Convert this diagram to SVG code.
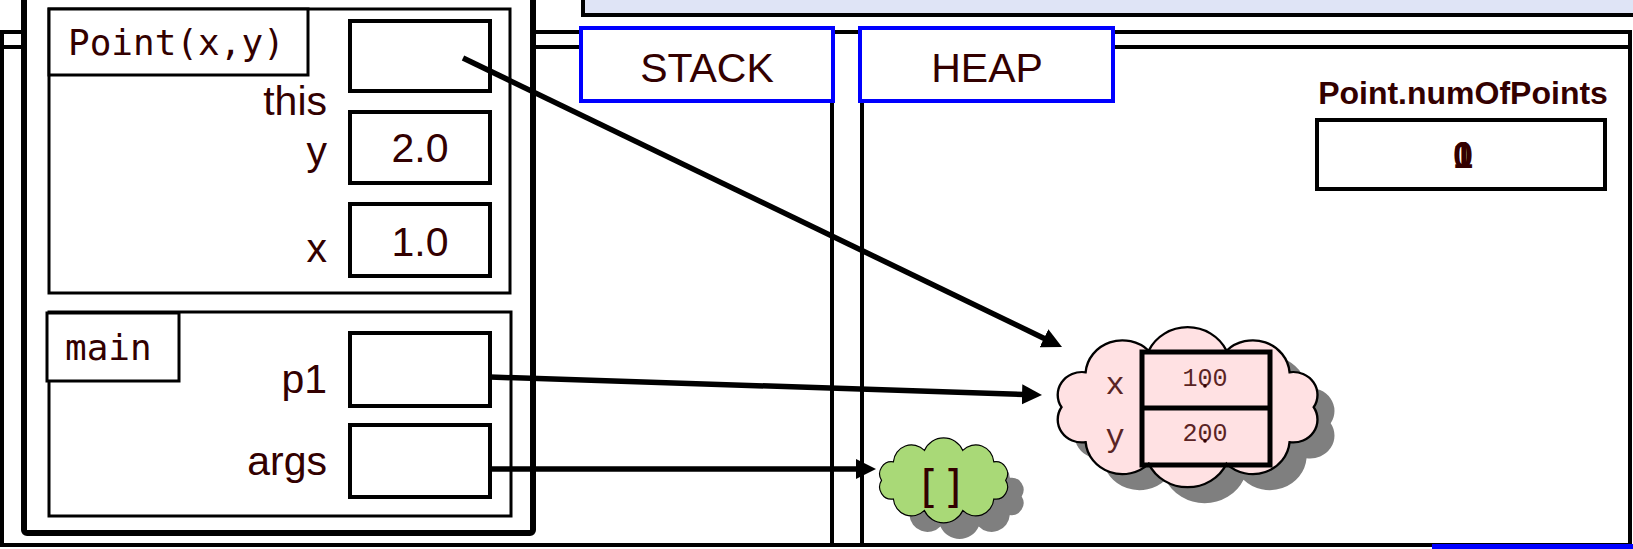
<svg xmlns="http://www.w3.org/2000/svg" width="1633" height="549" viewBox="0 0 1633 549">
<style>
.frame{fill:#fff;stroke:#000;stroke-width:3}
.cell{fill:#fff;stroke:#000;stroke-width:4}
.lbl{font-family:"Liberation Sans",Arial,sans-serif;font-size:41px;fill:#330000}
.mono{font-family:"DejaVu Sans Mono",monospace;font-size:36px;fill:#330000}
.val{font-family:"Liberation Sans",Arial,sans-serif;font-size:41px;fill:#330000;text-anchor:middle}
.tab{fill:#fff;stroke:#0000ff;stroke-width:4}
.tabt{font-family:"Liberation Sans",Arial,sans-serif;font-size:41px;fill:#330000;text-anchor:middle}
.conn{fill:none;stroke:#000;stroke-width:5.5}
.pl{stroke:#000;stroke-width:4}
.cm{font-family:"Liberation Mono",monospace;fill:#5a2424}
</style>
<defs>
<marker id="ah" markerUnits="userSpaceOnUse" markerWidth="22" markerHeight="22" refX="2" refY="10" orient="auto">
<path d="M0,0 L20,10 L0,20 Z" fill="#000"/>
</marker>
<path id="cloud" d="M180,60 A15.4,15.4 0 0 1 164.7,83.5 A23.4,23.4 0 0 1 124.7,98 A27.2,27.2 0 0 1 75.3,98 A23.4,23.4 0 0 1 35.3,83.5 A15.4,15.4 0 0 1 20,60 A15.4,15.4 0 0 1 35.3,36.5 A23.4,23.4 0 0 1 75.3,22 A27.2,27.2 0 0 1 124.7,22 A23.4,23.4 0 0 1 164.7,36.5 A15.4,15.4 0 0 1 180,60 Z"/>
</defs>
<rect width="1633" height="549" fill="#fff"/>
<g id="panels">
<rect x="2" y="32" width="1628" height="513" fill="#fff" class="pl"/>
<line class="pl" x1="2" y1="47" x2="832" y2="47"/>
<line class="pl" x1="862" y1="47" x2="1630" y2="47"/>
<line class="pl" x1="832" y1="47" x2="832" y2="545"/>
<line class="pl" x1="862" y1="47" x2="862" y2="545"/>
<rect x="1432" y="544" width="201" height="5" fill="#0000ff"/>
<rect x="583" y="-10" width="1060" height="25" fill="#dfe4f6" stroke="#000" stroke-width="4"/>
</g>
<g id="stack-frames">
<rect x="24" y="-20" width="509" height="553" rx="3" fill="#fff" stroke="#000" stroke-width="6"/>
</g>
<g id="frame-point">
<rect class="frame" x="49" y="9" width="461" height="284"/>
<rect class="frame" x="49" y="9" width="259" height="66"/>
<text class="mono" x="68" y="55">Point(x,y)</text>
<text class="lbl" x="327" y="115" text-anchor="end">this</text>
<rect class="cell" x="350" y="21" width="140" height="70"/>
<text class="lbl" x="327" y="165" text-anchor="end">y</text>
<rect class="cell" x="350" y="112" width="140" height="71"/>
<text class="val" x="420" y="162">2.0</text>
<text class="lbl" x="327" y="262" text-anchor="end">x</text>
<rect class="cell" x="350" y="204" width="140" height="72"/>
<text class="val" x="420" y="256">1.0</text>
</g>
<g id="frame-main">
<rect class="frame" x="49" y="312" width="462" height="204"/>
<rect class="frame" x="47" y="313" width="132" height="68"/>
<text class="mono" x="65" y="360">main</text>
<text class="lbl" x="327" y="393" text-anchor="end">p1</text>
<rect class="cell" x="350" y="333" width="140" height="73"/>
<text class="lbl" x="327" y="475" text-anchor="end">args</text>
<rect class="cell" x="350" y="425" width="140" height="72"/>
</g>
<g id="stack-tab">
<rect class="tab" x="581" y="28" width="252" height="73"/>
<text class="tabt" x="707" y="82">STACK</text>
</g>
<g id="heap-tab">
<rect class="tab" x="860" y="28" width="253" height="73"/>
<text class="tabt" x="987" y="82">HEAP</text>
</g>
<g id="static-field">
<text x="1463" y="104" text-anchor="middle" font-family="Liberation Sans, Arial, sans-serif" font-weight="bold" font-size="32" fill="#330000">Point.numOfPoints</text>
<rect class="cell" x="1317" y="120" width="288" height="69"/>
<text x="1463" y="168" text-anchor="middle" font-family="Liberation Sans, Arial, sans-serif" font-weight="bold" font-size="36" fill="#330000">0</text>
<text x="1463" y="168" text-anchor="middle" font-family="Liberation Sans, Arial, sans-serif" font-weight="bold" font-size="36" fill="#330000">1</text>
</g>
<g id="point-object">
<use href="#cloud" transform="translate(1047,334) scale(1.576,1.487)" fill="#7f7f7f"/>
<use href="#cloud" transform="translate(1030,318) scale(1.576,1.487)" fill="#ffe1e3" stroke="#000" stroke-width="1.5" vector-effect="non-scaling-stroke"/>
<rect x="1142" y="352" width="128" height="113" fill="none" stroke="#000" stroke-width="5"/>
<line x1="1142" y1="408" x2="1270" y2="408" stroke="#000" stroke-width="5"/>
<text class="cm" x="1115" y="394" font-size="32" text-anchor="middle">x</text>
<text class="cm" x="1115" y="446" font-size="32" text-anchor="middle">y</text>
<text class="cm" x="1205" y="386" font-size="25" text-anchor="middle">100</text>
<text class="cm" x="1205" y="441" font-size="25" text-anchor="middle">200</text>
<circle cx="1205" cy="386" r="1.8" fill="#330000"/>
<circle cx="1205" cy="441" r="1.8" fill="#330000"/>
</g>
<g id="args-array">
<use href="#cloud" transform="translate(882,449) scale(0.776,0.79)" fill="#7f7f7f"/>
<use href="#cloud" transform="translate(866,433) scale(0.776,0.79)" fill="#a9d977" stroke="#000" stroke-width="1.5" vector-effect="non-scaling-stroke"/>
<text x="941" y="502" text-anchor="middle" font-family="DejaVu Sans Mono, monospace" font-size="44" fill="#330000">[]</text>
</g>
<g id="connectors">
<line class="conn" x1="463" y1="58" x2="1045.8" y2="339.2" marker-end="url(#ah)"/>
<line class="conn" x1="490" y1="377" x2="1024" y2="394.4" marker-end="url(#ah)"/>
<line class="conn" x1="490" y1="469" x2="858" y2="469" marker-end="url(#ah)"/>
</g>
</svg>
